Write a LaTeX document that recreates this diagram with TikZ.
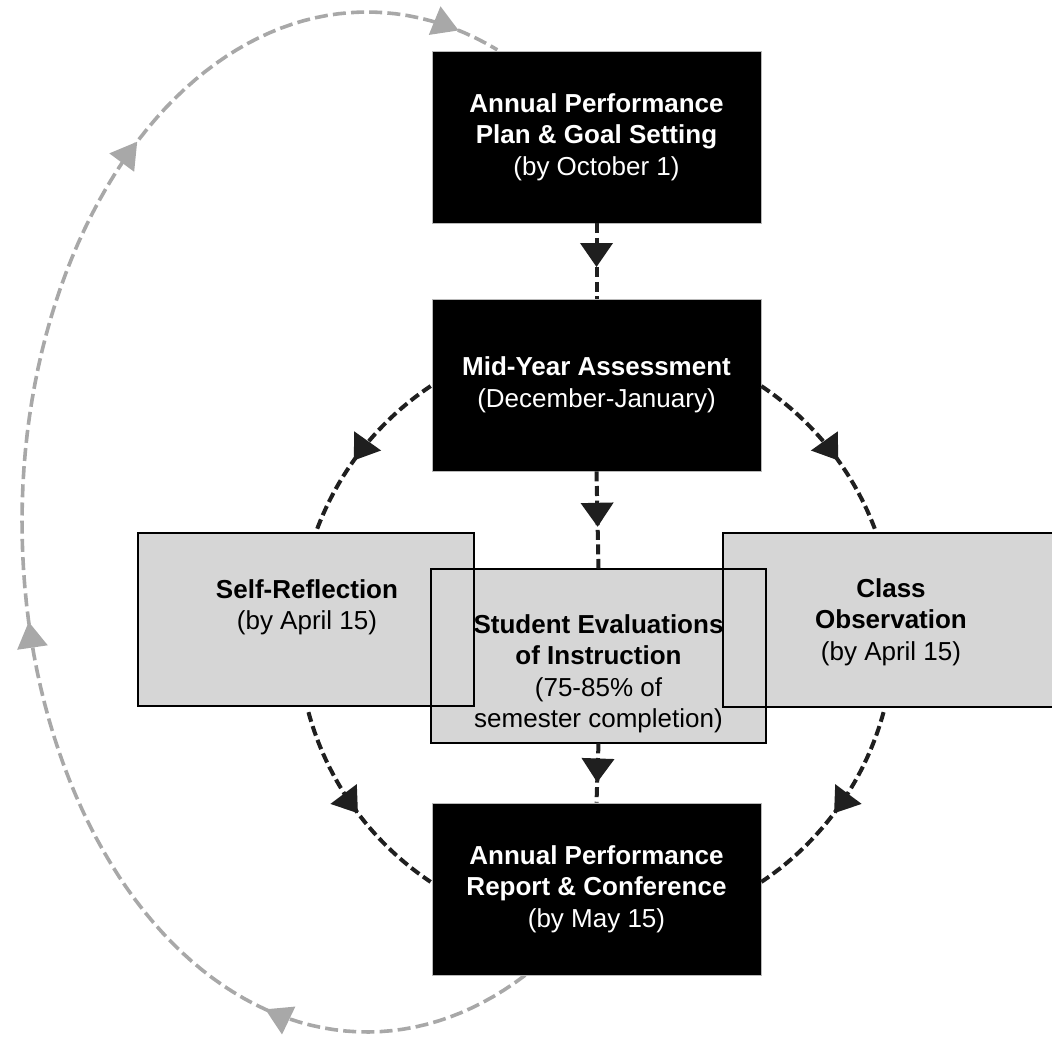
\documentclass[tikz,border=0pt]{standalone}
\usepackage{fontspec}
\setmainfont{Liberation Sans}
\usetikzlibrary{arrows.meta,decorations.markings}
\definecolor{boxgray}{RGB}{214,214,214}
\definecolor{cyclegray}{RGB}{168,168,168}
\tikzset{
  blackbox/.style={fill=black, draw=gray!55, line width=0.4pt, text=white,
    minimum width=164.5pt, minimum height=86pt, inner sep=0pt, align=center,
    font=\fontsize{13}{15.75}\selectfont},
  grayfill/.style={fill=boxgray, draw=none, inner sep=0pt},
  grayborder/.style={draw=black, line width=1pt},
  graytext/.style={anchor=north, inner sep=0pt, align=center,
    font=\fontsize{13}{15.75}\selectfont},
  flow/.style={draw=black!88, line width=2pt, dash pattern=on 5pt off 2.3pt},
  cycleline/.style={draw=cyclegray, line width=1.8pt, dash pattern=on 6.5pt off 2.6pt},
  arrowat/.style={postaction={decorate}, decoration={markings,
    mark=at position #1 with {\arrow{Triangle[length=12pt,width=16pt]}}}},
  cycletip/.style={markings, mark=at position #1 with
    {\arrow[cyclegray]{Triangle[length=13pt,width=15pt]}}},
}
\begin{document}
\begin{tikzpicture}[x=0.5pt, y=-0.5pt]
\useasboundingbox (0,0) rectangle (1052,1037);
\clip (0,0) rectangle (1052,1037);

% big gray return cycle
\draw[cycleline, postaction={decorate}, decoration={markings,
    mark=at position 0.166 with {\arrow[cyclegray]{Triangle[length=13pt,width=15pt]}},
    mark=at position 0.450 with {\arrow[cyclegray]{Triangle[length=13pt,width=15pt]}},
    mark=at position 0.753 with {\arrow[cyclegray]{Triangle[length=13pt,width=15pt]}},
    mark=at position 0.974 with {\arrow[cyclegray]{Triangle[length=13pt,width=15pt]}}}]
  plot[domain=0:1, samples=120, variable=\t]
  ({367+345*cos(62.7+229.8*\t)}, {522+510*sin(62.7+229.8*\t)});

% nodes (black)
\node[blackbox] (top) at (596.5,137)
  {\textbf{Annual Performance}\\\textbf{Plan \& Goal Setting}\\(by October 1)};
\node[blackbox] (mid) at (596.5,385)
  {\textbf{Mid-Year Assessment}\\(December-January)};
\node[blackbox] (bot) at (596.5,889)
  {\textbf{Annual Performance}\\\textbf{Report \& Conference}\\(by May 15)};

% gray box fills
\node[grayfill, minimum width=168pt, minimum height=86.5pt] (self) at (306,619.5) {};
\node[grayfill, minimum width=169.5pt, minimum height=87pt] (obs) at (892.5,620) {};
\node[grayfill, minimum width=167.5pt, minimum height=87pt] (stud) at (598.5,656) {};

% gray box texts
\node[graytext] (selft) at (307,579) {\textbf{Self-Reflection}\\(by April 15)};
\node[graytext] (obst) at (891,578) {\textbf{Class}\\\textbf{Observation}\\(by April 15)};
\node[graytext] (studt) at (598.5,614)
  {\textbf{Student Evaluations}\\\textbf{of Instruction}\\(75-85\% of\\semester completion)};

% gray box borders
\draw[grayborder] (self.south west) rectangle (self.north east);
\draw[grayborder] (stud.south west) rectangle (stud.north east);
\draw[grayborder] (obs.south west) rectangle (obs.north east);

% vertical flow
\draw[flow, arrowat=0.58] (top.south) -- (mid.north);
\draw[flow, arrowat=0.57] (mid.south) -- (stud.north);
\draw[flow, arrowat=0.66] (stud.south) -- (bot.north);

% curved flow (circle centre 596,634 radius 298)
\draw[flow, arrowat=0.57] plot[domain=0:1, samples=40, variable=\t]
  ({596+298*cos(236.3-36.3*\t)}, {634+298*sin(236.3-36.3*\t)});
\draw[flow, arrowat=0.57] plot[domain=0:1, samples=40, variable=\t]
  ({596+298*cos(303.7+36.3*\t)}, {634+298*sin(303.7+36.3*\t)});
\draw[flow, arrowat=0.53] plot[domain=0:1, samples=40, variable=\t]
  ({596+298*cos(164.8-41.1*\t)}, {634+298*sin(164.8-41.1*\t)});
\draw[flow, arrowat=0.53] plot[domain=0:1, samples=40, variable=\t]
  ({596+298*cos(15.2+41.1*\t)}, {634+298*sin(15.2+41.1*\t)});
\end{tikzpicture}
\end{document}
